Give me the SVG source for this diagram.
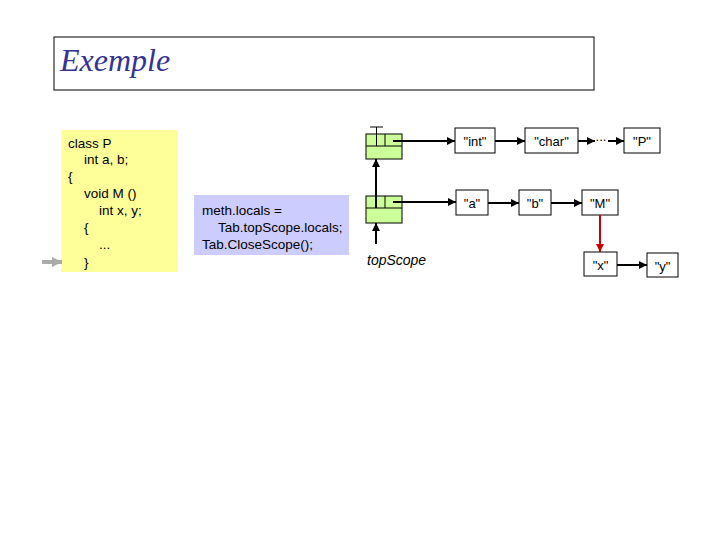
<svg xmlns="http://www.w3.org/2000/svg" width="720" height="540" viewBox="0 0 720 540">
<style>
.t{font-family:"Liberation Sans",Arial,sans-serif;font-size:13px;fill:#000}
.c{font-size:13.5px}
.box{fill:#fff;stroke:#000;stroke-width:1}
.cell{fill:#ccff99;stroke:#000;stroke-width:1}
.ln{stroke:#000;stroke-width:2;fill:none}
.thin{stroke:#000;stroke-width:1;fill:none}
</style>
<defs>
<marker id="ah" viewBox="0 0 10 10" refX="10" refY="5" markerWidth="4" markerHeight="4" orient="auto" markerUnits="strokeWidth"><path d="M0,0 L10,5 L0,10 z" fill="#000"/></marker>
<marker id="ahr" viewBox="0 0 10 10" refX="10" refY="5" markerWidth="4" markerHeight="4" orient="auto" markerUnits="strokeWidth"><path d="M0,0 L10,5 L0,10 z" fill="#cc0000"/></marker>
<marker id="ahg" viewBox="0 0 10 10" refX="10" refY="5" markerWidth="2.5" markerHeight="2.5" orient="auto" markerUnits="strokeWidth"><path d="M0,0 L10,5 L0,10 z" fill="#aaaaaa"/></marker>
</defs>
<rect width="720" height="540" fill="#fff"/>
<g id="title">
<rect x="54" y="37" width="540" height="53" fill="#fff" stroke="#000" stroke-width="1"/>
<text x="60" y="71" font-family="'Liberation Serif','Times New Roman',serif" font-style="italic" font-size="32" fill="#333399">Exemple</text>
</g>
<g id="code">
<rect x="61" y="130" width="117" height="142" fill="#ffff99"/>
<text class="t c"><tspan x="68" y="148">class P</tspan><tspan x="84" y="164">int a, b;</tspan><tspan x="68" y="181">{</tspan><tspan x="84" y="198">void M ()</tspan><tspan x="99" y="215">int x, y;</tspan><tspan x="84" y="232">{</tspan><tspan x="99" y="249">...</tspan><tspan x="84" y="267">}</tspan></text>
</g>
<g id="stmt">
<rect x="194" y="195" width="155" height="60" fill="#ccccff"/>
<text class="t c"><tspan x="202" y="215">meth.locals =</tspan><tspan x="218" y="232">Tab.topScope.locals;</tspan><tspan x="202" y="249">Tab.CloseScope();</tspan></text>
</g>
<g id="scope1">
<rect class="cell" x="366" y="134" width="36" height="25"/>
<line class="thin" x1="366" y1="146" x2="402" y2="146"/>
<line class="thin" x1="385" y1="134" x2="385" y2="146"/>
</g>
<g id="scope2">
<rect class="cell" x="366" y="196" width="36" height="27"/>
<line class="thin" x1="366" y1="208" x2="402" y2="208"/>
<line class="thin" x1="385" y1="196" x2="385" y2="208"/>
</g>
<g id="topScope"><text x="367" y="265" font-family="'Liberation Sans',Arial,sans-serif" font-style="italic" font-size="14">topScope</text></g>
<g id="n-int"><rect class="box" x="455" y="128" width="40" height="25"/><text class="t" x="475" y="146" text-anchor="middle">"int"</text></g>
<g id="n-char"><rect class="box" x="525" y="128" width="53" height="25"/><text class="t" x="551.5" y="146" text-anchor="middle">"char"</text></g>
<g id="n-dots"><text class="t" x="601" y="141" text-anchor="middle" font-size="11" fill="#555">...</text></g>
<g id="n-P"><rect class="box" x="624" y="128" width="36" height="25"/><text class="t" x="642" y="146" text-anchor="middle">"P"</text></g>
<g id="n-a"><rect class="box" x="456" y="190" width="32" height="25"/><text class="t" x="472" y="208" text-anchor="middle">"a"</text></g>
<g id="n-b"><rect class="box" x="519" y="190" width="32" height="25"/><text class="t" x="535" y="208" text-anchor="middle">"b"</text></g>
<g id="n-M"><rect class="box" x="582" y="190" width="36" height="25"/><text class="t" x="600" y="208" text-anchor="middle">"M"</text></g>
<g id="n-x"><rect class="box" x="584" y="252" width="33" height="24"/><text class="t" x="600.5" y="270" text-anchor="middle">"x"</text></g>
<g id="n-y"><rect class="box" x="647" y="253" width="31" height="24"/><text class="t" x="662.5" y="271" text-anchor="middle">"y"</text></g>
<g id="connectors">
<polyline class="thin" points="370,127 383,127"/>
<line class="thin" x1="376.5" y1="127" x2="376.5" y2="146"/>
<line class="ln" x1="376" y1="208" x2="376" y2="159" marker-end="url(#ah)"/>
<line class="ln" x1="376" y1="244" x2="376" y2="223" marker-end="url(#ah)"/>
<line class="ln" x1="393" y1="141" x2="455" y2="141" marker-end="url(#ah)"/>
<line class="ln" x1="393" y1="202" x2="456" y2="202" marker-end="url(#ah)"/>
<line class="ln" x1="495" y1="141" x2="525" y2="141" marker-end="url(#ah)"/>
<line class="ln" x1="578" y1="141" x2="595" y2="141" marker-end="url(#ah)"/>
<line class="ln" x1="608" y1="141" x2="624" y2="141" marker-end="url(#ah)"/>
<line class="ln" x1="488" y1="203" x2="519" y2="203" marker-end="url(#ah)"/>
<line class="ln" x1="551" y1="203" x2="582" y2="203" marker-end="url(#ah)"/>
<line x1="600" y1="215" x2="600" y2="252" stroke="#cc0000" stroke-width="2" marker-end="url(#ahr)"/>
<line class="ln" x1="617" y1="265" x2="647" y2="265" marker-end="url(#ah)"/>
<line x1="42" y1="262" x2="62" y2="262" stroke="#aaaaaa" stroke-width="4" marker-end="url(#ahg)"/>
</g>
</svg>
